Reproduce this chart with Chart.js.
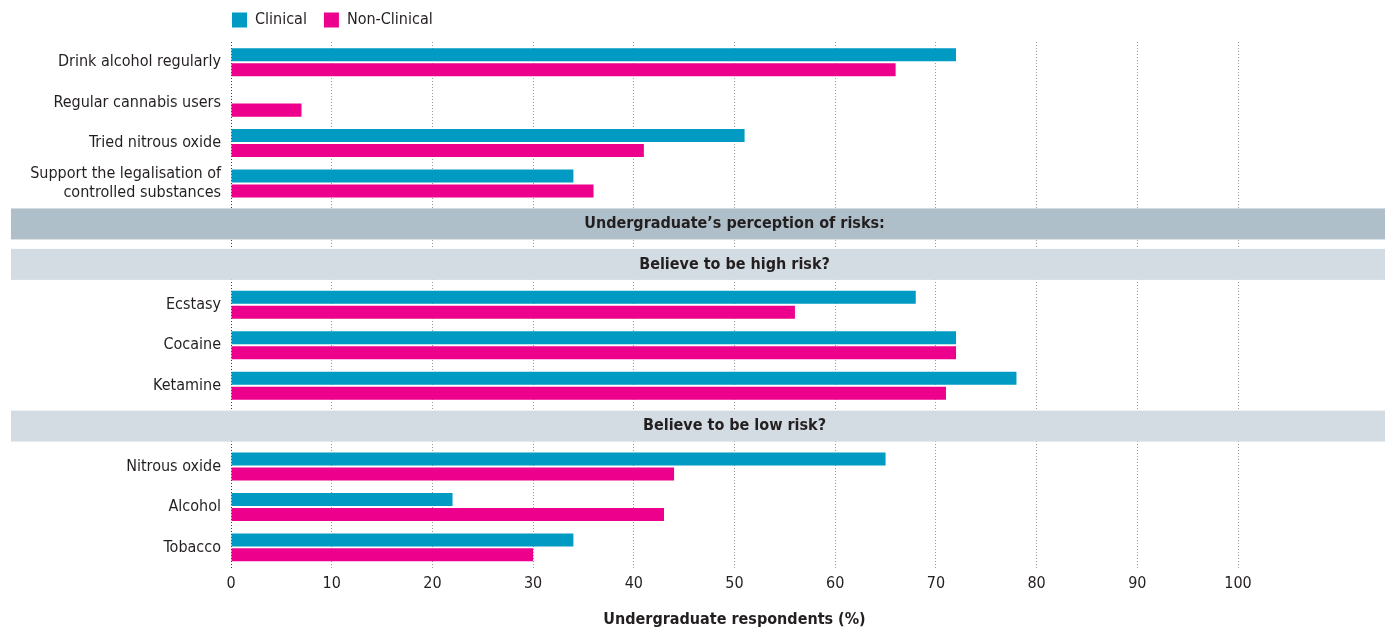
<!DOCTYPE html>
<html>
<head>
<meta charset="utf-8">
<script src="https://cdn.jsdelivr.net/npm/chart.js@4.4.1/dist/chart.umd.min.js"></script>
<style>
  html, body { margin: 0; padding: 0; background: #ffffff; }
  #wrap { position: relative; width: 1390px; height: 630px; }
</style>
</head>
<body>
<div id="wrap"><canvas id="c" width="1390" height="630"></canvas></div>
<script>
// ---- data ----
const rowLabels = [
  'Drink alcohol regularly',
  'Regular cannabis users',
  'Tried nitrous oxide',
  ['Support the legalisation of', 'controlled substances'],
  '',
  '',
  'Ecstasy',
  'Cocaine',
  'Ketamine',
  '',
  'Nitrous oxide',
  'Alcohol',
  'Tobacco'
];
const sectionTitles = [null, null, null, null,
  'Undergraduate’s perception of risks:',
  'Believe to be high risk?',
  null, null, null,
  'Believe to be low risk?',
  null, null, null];
const sectionLevels = [0, 0, 0, 0, 1, 2, 0, 0, 0, 2, 0, 0, 0];
const clinical    = [72, null, 51, 34, null, null, 68, 72, 78, null, 65, 22, 34];
const nonClinical = [66, 7,    41, 36, null, null, 56, 72, 71, null, 44, 43, 30];
const xTicks = [0, 10, 20, 30, 40, 50, 60, 70, 80, 90, 100];
const seriesNames = ['Clinical', 'Non-Clinical'];
const xTitle = 'Undergraduate respondents (%)';

// ---- styles ----
const FONT = "'Liberation Sans Narrow', 'DejaVu Sans Condensed', 'Roboto', sans-serif";
const TEXT = '#231f20';
const C_CLIN = '#009ac2';
const C_NON = '#ec008c';
const BAND1 = '#aebfc9';
const BAND2 = '#d3dce2';

const bandPlugin = {
  id: 'sectionBands',
  beforeDatasetsDraw(chart) {
    const ctx = chart.ctx;
    const y = chart.scales.y;
    const xs = chart.scales.x;
    const cx = (xs.getPixelForValue(0) + xs.getPixelForValue(100)) / 2;
    ctx.save();
    sectionTitles.forEach((t, i) => {
      if (!t) return;
      const yc = y.getPixelForValue(i);
      const h = 31;
      ctx.fillStyle = sectionLevels[i] === 1 ? BAND1 : BAND2;
      ctx.fillRect(11, yc - h / 2, chart.width - 16, h);
      ctx.fillStyle = TEXT;
      ctx.font = "bold 16px " + FONT;
      ctx.textAlign = 'center';
      ctx.textBaseline = 'middle';
      ctx.fillText(t, cx, yc);
    });
    ctx.restore();
  }
};

const legendShift = {
  id: 'legendShift',
  afterInit(chart) {
    const lg = chart.legend;
    if (!lg) return;
    const origFit = lg.fit.bind(lg);
    lg.fit = function () { origFit(); this.height = 42; };
  },
  afterLayout(chart) {
    const lg = chart.legend;
    if (!lg) return;
    const dx = chart.chartArea.left - 16 - lg.left;
    lg.left += dx;
    lg.right += dx;
    lg.top -= 5;
    lg.bottom -= 5;
  }
};

new Chart(document.getElementById('c'), {
  type: 'bar',
  data: {
    labels: rowLabels,
    datasets: [
      { label: seriesNames[0], data: clinical, backgroundColor: C_CLIN, borderWidth: 0 },
      { label: seriesNames[1], data: nonClinical, backgroundColor: C_NON, borderWidth: 0 }
    ]
  },
  options: {
    indexAxis: 'y',
    responsive: false,
    animation: false,
    devicePixelRatio: 1,
    layout: { padding: { top: 0, right: 152, bottom: 1, left: 0 } },
    datasets: { bar: { categoryPercentage: 0.74, barPercentage: 0.87 } },
    scales: {
      x: {
        min: 0, max: 100,
        afterBuildTicks(s) { s.ticks = xTicks.map(v => ({ value: v })); },
        grid: {
          drawTicks: false,
          color: (c) => c.index === 0 ? '#3a3a3a' : '#9a9a9a',
          lineWidth: 1
        },
        border: { display: false, dash: [1, 2] },
        ticks: { color: TEXT, font: { family: FONT, size: 16 }, padding: 7 },
        title: { display: true, text: xTitle, color: TEXT, font: { family: FONT, size: 16, weight: 'bold' }, padding: { top: 9, bottom: 0 } }
      },
      y: {
        afterFit(s) { s.width = 231; },
        grid: { display: false, drawTicks: false },
        border: { display: false },
        ticks: { color: TEXT, font: { family: FONT, size: 16 }, padding: 10, autoSkip: false }
      }
    },
    plugins: {
      legend: {
        position: 'top', align: 'start',
        labels: { boxWidth: 15, boxHeight: 15, padding: 17, color: TEXT, font: { family: FONT, size: 16 } }
      },
      tooltip: { enabled: false }
    }
  },
  plugins: [bandPlugin, legendShift]
});
</script>
</body>
</html>
